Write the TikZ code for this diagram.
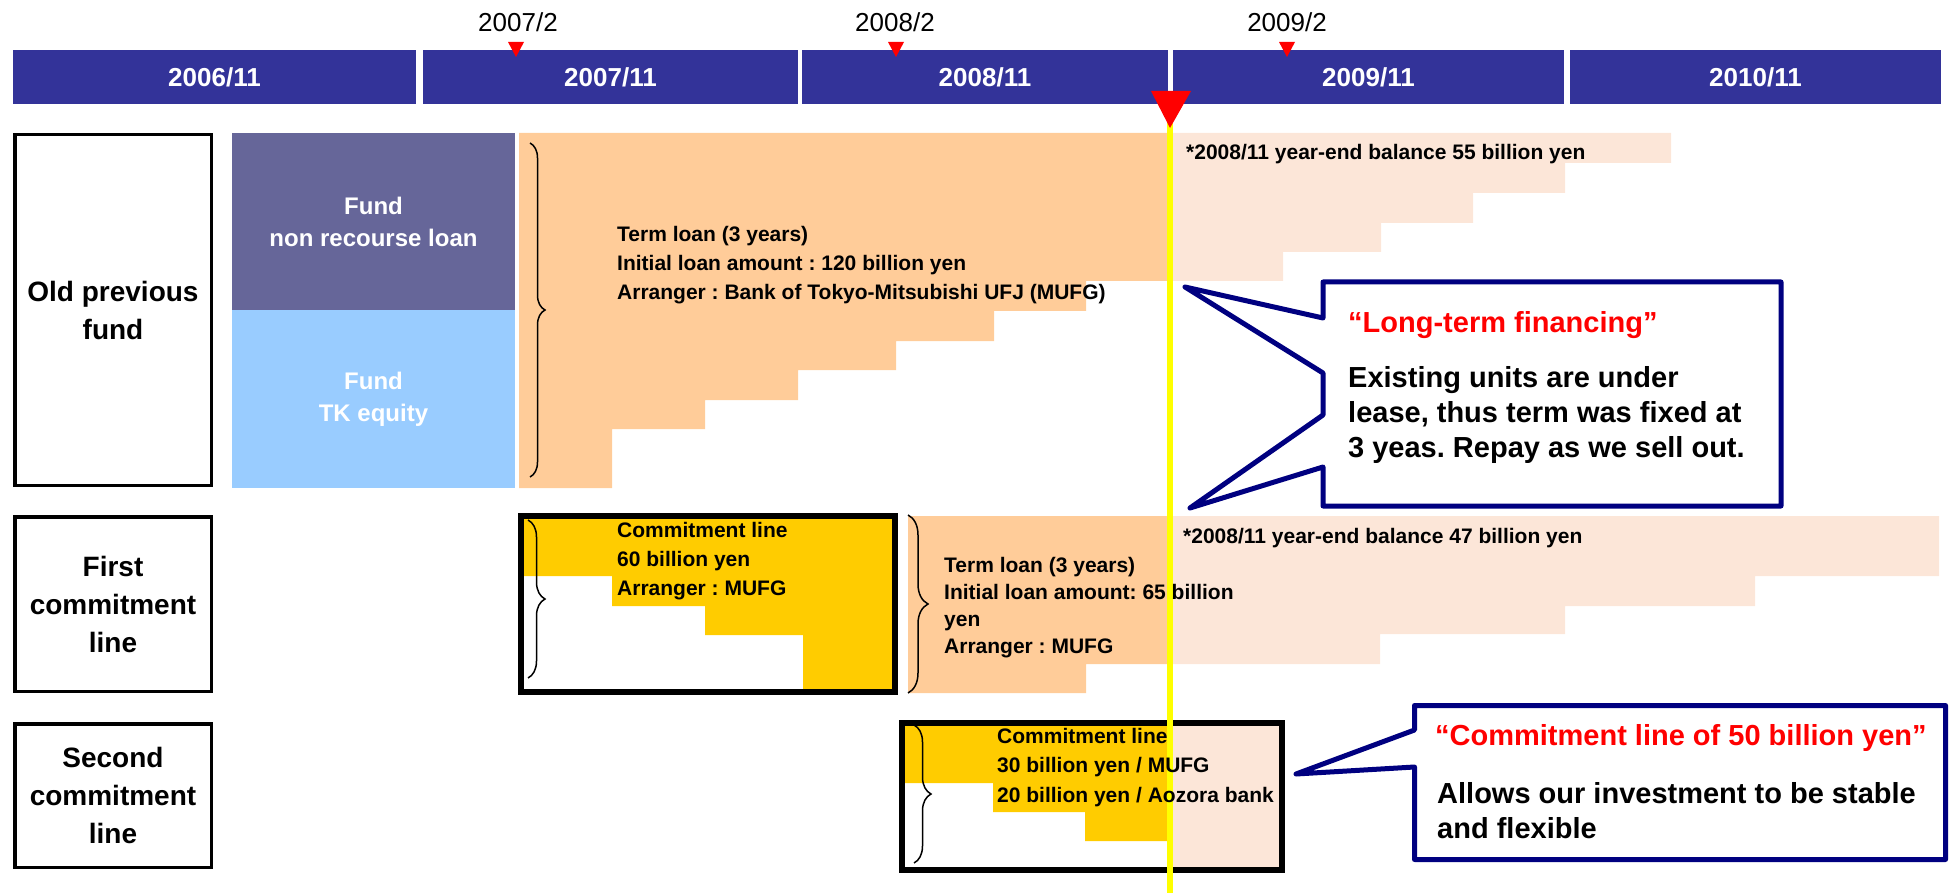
\documentclass[tikz,border=0pt]{standalone}
\usepackage{fontspec}
\setmainfont{Liberation Sans}
\usetikzlibrary{decorations.pathreplacing}
\definecolor{hdrblue}{RGB}{51,51,153}
\definecolor{fundpurple}{RGB}{102,102,153}
\definecolor{fundblue}{RGB}{153,204,255}
\definecolor{peach}{RGB}{255,204,153}
\definecolor{cmtyellow}{RGB}{255,204,0}
\definecolor{paleorange}{RGB}{252,230,216}
\definecolor{navy}{RGB}{0,0,128}
\definecolor{markred}{RGB}{255,0,0}
\definecolor{lineyellow}{RGB}{255,255,0}
\frenchspacing
\begin{document}
\begin{tikzpicture}[x=1pt,y=-1pt,
  hdr/.style={fill=hdrblue,text=white,font=\fontsize{26}{30}\selectfont\bfseries,minimum height=54,inner sep=0},
  datelbl/.style={font=\fontsize{26}{30}\selectfont,inner sep=0},
  rowlabel/.style={draw=black,line width=3.5,fill=white,align=center,inner sep=0,minimum width=196.5,font=\fontsize{28}{38}\selectfont\bfseries},
  fundblock/.style={minimum width=283,inner sep=0,text=white,align=center,font=\fontsize{24}{32}\selectfont\bfseries},
  bodytext/.style={anchor=west,inner sep=0,align=left,font=\fontsize{21}{29}\selectfont\bfseries},
  calloutbox/.style={draw=navy,fill=white,line width=5,line join=round},
  callhead/.style={anchor=west,inner sep=0,text=markred,font=\fontsize{29}{35}\selectfont\bfseries},
  callbody/.style={anchor=west,inner sep=0,align=left,font=\fontsize{29}{35}\selectfont\bfseries},
  bracket/.style={decorate,decoration={brace,amplitude=#1},line width=1.5},
  cmtbox/.style={draw=black,line width=6},
]
\useasboundingbox (0,0) rectangle (1957,893);

% ---- header ----
\node[hdr,minimum width=403] (h1) at (214.5,77) {2006/11};
\node[hdr,minimum width=375] (h2) at (610.5,77) {2007/11};
\node[hdr,minimum width=366] (h3) at (985,77) {2008/11};
\node[hdr,minimum width=391] (h4) at (1368.5,77) {2009/11};
\node[hdr,minimum width=371] (h5) at (1755.5,77) {2010/11};
\node[datelbl] (d1) at (518,22) {2007/2};
\node[datelbl] (d2) at (895,22) {2008/2};
\node[datelbl] (d3) at (1287,22) {2009/2};
\fill[markred] (508,42) -- (524,42) -- (516,57) -- cycle;
\fill[markred] (888,42) -- (904,42) -- (896,57) -- cycle;
\fill[markred] (1279,42) -- (1295,42) -- (1287,57) -- cycle;

% ---- row labels ----
\node[rowlabel,minimum height=350.5] (rOld) at (113,310) {Old previous\\fund};
\node[rowlabel,minimum height=174.5] (rFirst) at (113,604) {First\\commitment\\line};
\node[rowlabel,minimum height=143.5] (rSecond) at (113,795.5) {Second\\commitment\\line};

% ---- old previous fund ----
\node[fundblock,fill=fundpurple,minimum height=177] (fNR) at (373.5,221.5) {Fund\\non recourse loan};
\node[fundblock,fill=fundblue,minimum height=178] (fTK) at (373.5,399) {Fund\\TK equity};

\fill[peach] (519,133) -- (1167,133) -- (1167,281) -- (1086,281) -- (1086,311) -- (994,311)
  -- (994,341) -- (896,341) -- (896,370) -- (798,370) -- (798,400) -- (705,400)
  -- (705,429) -- (612,429) -- (612,488) -- (519,488) -- cycle;
\fill[paleorange] (1173,133) -- (1671,133) -- (1671,163) -- (1565,163) -- (1565,193) -- (1473,193)
  -- (1473,223) -- (1381,223) -- (1381,252) -- (1283,252) -- (1283,281) -- (1173,281) -- cycle;
\draw[bracket=15] (530,143) -- (530,477);

% ---- first commitment line ----
\fill[cmtyellow] (524,519) -- (892,519) -- (892,690) -- (803,690) -- (803,635) -- (705,635)
  -- (705,606) -- (612,606) -- (612,576) -- (524,576) -- cycle;
\draw[cmtbox] (521,516) rectangle (895,692);
\draw[bracket=17] (528,520) -- (528,678);

\fill[peach] (908,516) -- (1167,516) -- (1167,664) -- (1086,664) -- (1086,693) -- (908,693) -- cycle;
\fill[paleorange] (1173,516) -- (1939,516) -- (1939,576) -- (1755,576) -- (1755,606) -- (1565,606)
  -- (1565,634) -- (1380,634) -- (1380,664) -- (1173,664) -- cycle;
\draw[bracket=20] (908,515) -- (908,693);

% ---- second commitment line ----
\fill[cmtyellow] (905,726) -- (1167,726) -- (1167,841) -- (1085,841) -- (1085,812) -- (993,812)
  -- (993,783) -- (905,783) -- cycle;
\fill[paleorange] (1173,726) rectangle (1279,867);
\draw[cmtbox] (902,723) rectangle (1282,870);
\draw[bracket=17] (914,725) -- (914,863);

% ---- time marker ----
\fill[lineyellow] (1167,120) rectangle (1173,893);
\fill[markred] (1151,91) -- (1191,91) -- (1170,128) -- cycle;

% ---- texts in the chart ----
\node[bodytext] (tl1) at (617,265) {Term loan (3 years)\\Initial loan amount : 120 billion yen\\Arranger : Bank of Tokyo-Mitsubishi UFJ (MUFG)};
\node[bodytext] (bal1) at (1186,154) {*2008/11 year-end balance 55 billion yen};
\node[bodytext] (cl1) at (617,561) {Commitment line\\60 billion yen\\Arranger : MUFG};
\node[bodytext,font=\fontsize{21}{27}\selectfont\bfseries] (tl2) at (944,608) {Term loan (3 years)\\Initial loan amount: 65 billion\\yen\\Arranger : MUFG};
\node[bodytext] (bal2) at (1183,538) {*2008/11 year-end balance 47 billion yen};
\node[bodytext,font=\fontsize{21}{29.5}\selectfont\bfseries] (cl2) at (997,767.5) {Commitment line\\30 billion yen / MUFG\\20 billion yen / Aozora bank};

% ---- callouts ----
\draw[calloutbox] (1323,282) -- (1781,282) -- (1781,506) -- (1323,506) -- (1323,467)
  -- (1190,508) -- (1323,415) -- (1323,373) -- (1185,287) -- (1323,318) -- cycle;
\node[callhead] (c1h) at (1348,325) {“Long-term financing”};
\node[callbody] (c1b) at (1348,415) {Existing units are under\\lease, thus term was fixed at\\3 yeas. Repay as we sell out.};

\draw[calloutbox] (1414.5,705.5) -- (1945.5,705.5) -- (1945.5,859.5) -- (1414.5,859.5)
  -- (1414.5,767) -- (1296,774) -- (1414.5,730) -- cycle;
\node[callhead] (c2h) at (1435,738) {“Commitment line of 50 billion yen”};
\node[callbody] (c2b) at (1437,810.5) {Allows our investment to be stable\\and flexible};
\end{tikzpicture}
\end{document}
